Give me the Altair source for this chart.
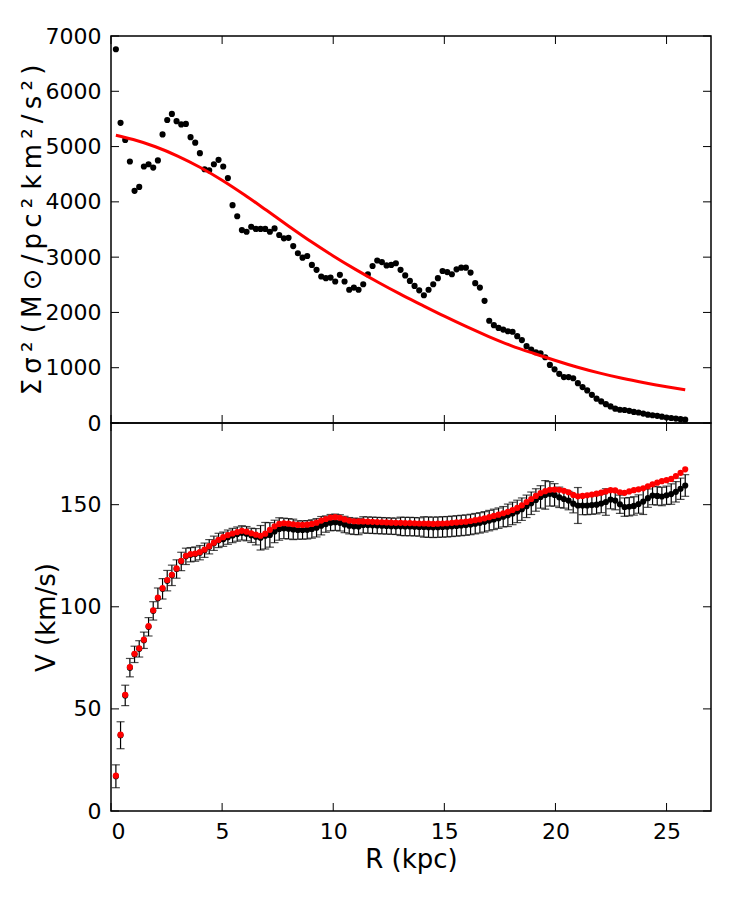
import altair as alt
import pandas as pd

# Galactocentric radius of each annulus (kpc)
R_KPC = [
    0.22, 0.43, 0.64, 0.85, 1.06, 1.27, 1.48, 1.69, 1.90, 2.11,
    2.32, 2.53, 2.74, 2.95, 3.16, 3.37, 3.58, 3.79, 4.00, 4.21,
    4.42, 4.63, 4.84, 5.05, 5.26, 5.47, 5.68, 5.89, 6.10, 6.31,
    6.52, 6.73, 6.94, 7.15, 7.36, 7.57, 7.78, 7.99, 8.20, 8.41,
    8.62, 8.83, 9.04, 9.25, 9.46, 9.67, 9.88, 10.09, 10.30, 10.51,
    10.72, 10.93, 11.14, 11.35, 11.56, 11.77, 11.98, 12.19, 12.40, 12.61,
    12.82, 13.03, 13.24, 13.45, 13.66, 13.87, 14.08, 14.29, 14.50, 14.71,
    14.92, 15.13, 15.34, 15.55, 15.76, 15.97, 16.18, 16.39, 16.60, 16.81,
    17.02, 17.23, 17.44, 17.65, 17.86, 18.07, 18.28, 18.49, 18.70, 18.91,
    19.12, 19.33, 19.54, 19.75, 19.96, 20.17, 20.38, 20.59, 20.80, 21.01,
    21.22, 21.43, 21.64, 21.85, 22.06, 22.27, 22.48, 22.69, 22.90, 23.11,
    23.32, 23.53, 23.74, 23.95, 24.16, 24.37, 24.58, 24.79, 25.00, 25.21,
    25.42, 25.63, 25.84,
]

# Sigma * sigma^2 per annulus (Msun/pc^2 km^2/s^2)
SIGMA_SIG2 = [
    6760, 5430, 5120, 4730, 4200, 4270, 4640, 4680, 4620, 4750,
    5220, 5480, 5590, 5460, 5400, 5410, 5170, 5070, 4880, 4590,
    4570, 4680, 4760, 4640, 4430, 3940, 3740, 3490, 3460, 3550,
    3510, 3510, 3510, 3460, 3520, 3400, 3340, 3350, 3200, 3070,
    2990, 3020, 2860, 2770, 2650, 2620, 2630, 2560, 2680, 2560,
    2410, 2450, 2410, 2510, 2690, 2840, 2940, 2910, 2850, 2860,
    2890, 2770, 2670, 2570, 2480, 2400, 2310, 2410, 2510, 2620,
    2750, 2730, 2690, 2780, 2810, 2810, 2720, 2530, 2450, 2210,
    1850, 1770, 1720, 1690, 1660, 1650, 1570, 1500, 1390, 1330,
    1280, 1260, 1190, 1050, 970, 890, 830, 830, 810, 720,
    650, 590, 510, 440, 390, 340, 300, 260, 240, 235,
    220, 200, 190, 170, 150, 140, 130, 115, 100, 90,
    80, 70, 60,
]

# Smooth model curve for Sigma * sigma^2
FIT_R = [0.22, 1, 2, 3, 4, 5, 6, 7, 8, 9, 10, 11, 12, 13, 14, 15, 16,
         17, 18, 19, 20, 21, 22, 23, 24, 25, 25.84]
FIT_SIGMA_SIG2 = [5205, 5127, 4997, 4829, 4627, 4392, 4129, 3847, 3560,
                  3282, 3022, 2779, 2551, 2335, 2132, 1932, 1742, 1564,
                  1401, 1261, 1131, 1009, 902, 808, 727, 655, 600]

# Observed rotation velocity (km/s) and its uncertainty
V_OBS = [
    17.0, 37.1, 56.6, 70.2, 76.7, 79.4, 83.6, 90.2, 98.0, 104.2,
    108.8, 112.8, 115.4, 118.5, 122.2, 124.7, 125.5, 125.8, 126.5, 127.7,
    129.4, 131.1, 132.5, 133.1, 134.1, 134.9, 135.6, 136.2, 135.8, 135.0,
    134.3, 133.8, 134.8, 135.2, 136.9, 138.1, 138.4, 138.2, 137.9, 137.6,
    137.6, 137.7, 138.1, 138.7, 139.7, 140.5, 141.2, 141.4, 141.1, 140.3,
    139.7, 139.4, 139.3, 140.1, 140.0, 139.9, 139.8, 139.7, 139.6, 139.5,
    139.4, 139.4, 139.3, 139.3, 139.2, 139.1, 139.1, 139.0, 138.9, 139.0,
    139.1, 139.2, 139.4, 139.6, 139.8, 140.0, 140.3, 140.7, 141.1, 141.6,
    142.2, 142.8, 143.4, 144.1, 144.8, 145.7, 146.7, 147.8, 149.2, 150.7,
    152.3, 153.8, 154.8, 155.3, 154.8, 153.6, 152.8, 152.0, 150.5, 149.6,
    149.6, 149.6, 149.8, 150.0, 150.6, 151.3, 152.5, 152.0, 150.2, 148.8,
    149.0, 149.4, 150.3, 151.5, 153.2, 154.5, 154.3, 154.0, 154.6, 155.2,
    156.3, 157.8, 159.4,
]
V_ERR = [
    5.6, 6.6, 5.0, 4.5, 4.0, 4.0, 4.0, 4.5, 4.5, 5.0,
    5.0, 5.0, 5.0, 4.5, 4.5, 4.0, 3.5, 3.5, 3.5, 3.5,
    3.5, 3.5, 3.5, 3.5, 3.5, 3.5, 3.5, 3.5, 3.5, 3.5,
    4.0, 6.0, 6.5, 6.0, 5.5, 5.5, 5.0, 5.0, 5.0, 4.5,
    4.5, 4.5, 4.5, 4.5, 4.5, 4.0, 4.0, 4.0, 4.0, 4.0,
    4.0, 4.0, 4.0, 4.0, 4.0, 4.0, 4.0, 4.0, 4.0, 4.0,
    4.0, 4.5, 4.5, 4.5, 4.5, 4.5, 5.0, 5.0, 5.0, 5.0,
    5.0, 5.0, 5.0, 5.0, 5.0, 5.0, 5.0, 5.0, 5.0, 5.0,
    5.0, 5.0, 5.0, 5.0, 5.5, 5.5, 5.5, 5.5, 5.5, 5.5,
    5.5, 5.5, 7.0, 6.0, 5.5, 5.0, 4.5, 4.5, 4.5, 8.8,
    4.5, 4.5, 4.5, 4.5, 4.5, 6.5, 4.5, 4.5, 4.5, 4.5,
    4.5, 4.5, 4.5, 6.3, 4.5, 4.5, 4.5, 4.5, 4.5, 5.0,
    5.0, 5.2, 5.3,
]
# Circular velocity corrected for asymmetric drift (km/s)
V_CIRC = [
    17.3, 37.4, 56.9, 70.5, 77.0, 79.7, 83.9, 90.5, 98.3, 104.5,
    109.1, 113.1, 115.7, 118.8, 122.5, 125.0, 125.8, 126.1, 126.8, 128.0,
    129.7, 131.4, 132.8, 134.1, 135.1, 135.9, 136.6, 137.2, 136.8, 136.0,
    135.3, 134.8, 135.8, 137.7, 139.4, 140.6, 140.9, 140.7, 140.4, 140.1,
    140.1, 140.2, 140.6, 141.2, 142.2, 143.0, 143.7, 143.9, 143.6, 142.8,
    142.2, 141.9, 141.8, 141.8, 141.7, 141.6, 141.5, 141.4, 141.3, 141.2,
    141.1, 141.1, 141.0, 141.0, 140.9, 140.8, 140.8, 140.7, 140.6, 140.7,
    140.8, 140.9, 141.1, 141.3, 141.5, 141.7, 142.0, 142.4, 142.8, 143.3,
    143.9, 144.5, 145.1, 145.8, 146.5, 147.4, 148.4, 149.7, 151.3, 152.8,
    154.3, 155.7, 156.6, 157.3, 157.4, 157.3, 156.8, 156.1, 154.8, 154.1,
    154.3, 154.6, 155.0, 155.4, 155.9, 156.5, 157.1, 157.0, 156.1, 155.8,
    156.5, 157.1, 157.5, 158.0, 159.0, 160.0, 160.8, 161.5, 162.0, 162.6,
    164.0, 165.6, 167.3,
]

X_TICKS = [0, 5, 10, 15, 20, 25]
TOP_Y_TICKS = [0, 1000, 2000, 3000, 4000, 5000, 6000, 7000]
BOT_Y_TICKS = [0, 50, 100, 150]

W = 600
H_TOP = 387
H_BOT = 388
TICK_LEN = 8
FONT = "DejaVu Sans"
LABEL_FS = 22
TITLE_FS = 26

# Upper-panel axis title, set with thin spaces between glyphs
THIN = "\u2009"
TOP_TITLE = THIN.join("Σσ²") + " " + THIN.join("(M⊙/pc²") + " " + THIN.join("km²/s²)")

top_df = pd.DataFrame({"R": R_KPC, "S": SIGMA_SIG2})
fit_df = pd.DataFrame({"R": FIT_R, "S": FIT_SIGMA_SIG2})
bot_df = pd.DataFrame({
    "R": R_KPC,
    "V": V_OBS,
    "lo": [v - e for v, e in zip(V_OBS, V_ERR)],
    "hi": [v + e for v, e in zip(V_OBS, V_ERR)],
    "Vc": V_CIRC,
})
xt_df = pd.DataFrame({"R": X_TICKS})
yt_top_df = pd.DataFrame({"S": TOP_Y_TICKS})
yt_bot_df = pd.DataFrame({"V": BOT_Y_TICKS})

x_scale = alt.Scale(domain=[0, 27], nice=False, zero=False)
top_y_scale = alt.Scale(domain=[0, 7000], nice=False)
bot_y_scale = alt.Scale(domain=[0, 190], nice=False)

top_y_axis = alt.Axis(values=TOP_Y_TICKS, ticks=False, domain=False, grid=False,
                      labelPadding=10, titlePadding=0, format="d",
                      title=TOP_TITLE)
bot_y_axis = alt.Axis(values=BOT_Y_TICKS, ticks=False, domain=False, grid=False,
                      labelPadding=10, titlePadding=0, format="d",
                      title="V (km/s)")
bot_x_axis = alt.Axis(values=X_TICKS, ticks=False, domain=False, grid=False,
                      labelPadding=10, titlePadding=4, format="d",
                      title="R (kpc)")

X_TOP = alt.X("R:Q", scale=x_scale, axis=None)
Y_TOP = alt.Y("S:Q", scale=top_y_scale, axis=top_y_axis)
X_BOT = alt.X("R:Q", scale=x_scale, axis=bot_x_axis)


def inward_ticks(xdef, ydef, height):
    """Short tick marks drawn inside the frame on all four sides."""
    xt = alt.Chart(xt_df)
    top_ticks = xt.mark_rule(color="black", strokeWidth=1).encode(
        x=xdef, y=alt.value(0), y2=alt.value(TICK_LEN))
    bottom_ticks = xt.mark_rule(color="black", strokeWidth=1).encode(
        x=xdef, y=alt.value(height - TICK_LEN), y2=alt.value(height))
    yt = alt.Chart(ydef[0])
    left_ticks = yt.mark_rule(color="black", strokeWidth=1).encode(
        y=ydef[1], x=alt.value(0), x2=alt.value(TICK_LEN))
    right_ticks = yt.mark_rule(color="black", strokeWidth=1).encode(
        y=ydef[1], x=alt.value(W - TICK_LEN), x2=alt.value(W))
    return [top_ticks, bottom_ticks, left_ticks, right_ticks]


# Upper panel: Sigma sigma^2 profile with smooth model
top_points = alt.Chart(top_df).mark_circle(size=38, color="black", opacity=1).encode(
    x=X_TOP, y=Y_TOP)
top_fit = alt.Chart(fit_df).mark_line(color="red", strokeWidth=3,
                                      interpolate="monotone").encode(x=X_TOP, y=Y_TOP)
top = alt.layer(
    top_points, top_fit,
    *inward_ticks(X_TOP, (yt_top_df, Y_TOP), H_TOP),
).properties(width=W, height=H_TOP)

# Lower panel: rotation curve
Y_BOT = alt.Y("V:Q", scale=bot_y_scale, axis=bot_y_axis)
err_rules = alt.Chart(bot_df).mark_rule(color="black", strokeWidth=1.2).encode(
    x=X_BOT,
    y=alt.Y("lo:Q", scale=bot_y_scale, axis=bot_y_axis),
    y2="hi:Q",
)
cap_lo = alt.Chart(bot_df).mark_tick(color="black", orient="horizontal",
                                     size=8, thickness=1.2).encode(
    x=X_BOT, y=alt.Y("lo:Q", scale=bot_y_scale, axis=bot_y_axis))
cap_hi = alt.Chart(bot_df).mark_tick(color="black", orient="horizontal",
                                     size=8, thickness=1.2).encode(
    x=X_BOT, y=alt.Y("hi:Q", scale=bot_y_scale, axis=bot_y_axis))
obs_points = alt.Chart(bot_df).mark_circle(size=38, color="black", opacity=1).encode(
    x=X_BOT, y=Y_BOT)
circ_points = alt.Chart(bot_df).mark_circle(size=38, color="red", opacity=1).encode(
    x=X_BOT, y=alt.Y("Vc:Q", scale=bot_y_scale, axis=bot_y_axis))

bottom = alt.layer(
    err_rules, cap_lo, cap_hi, obs_points, circ_points,
    *inward_ticks(X_BOT, (yt_bot_df, Y_BOT), H_BOT),
).properties(width=W, height=H_BOT)

chart = alt.vconcat(top, bottom, spacing=0, bounds="flush").properties(
    padding={"left": 18, "top": 24, "right": 10, "bottom": 10},
    background="white",
).configure_view(
    stroke="black", strokeWidth=1.5
).configure_axis(
    labelFont=FONT, titleFont=FONT, labelFontSize=LABEL_FS, titleFontSize=TITLE_FS,
    labelColor="black", titleColor="black", titleFontWeight="normal",
)

chart.save("out.html", embed_options={"renderer": "svg", "actions": False})
